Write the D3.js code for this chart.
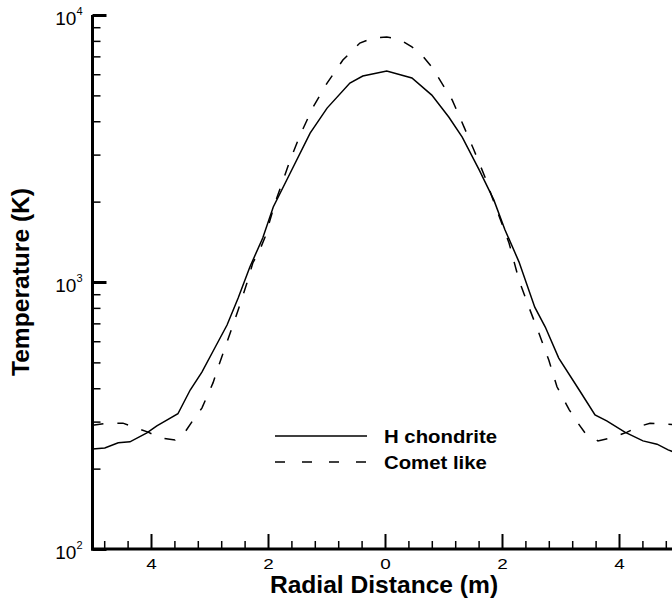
<!DOCTYPE html>
<html>
<head>
<meta charset="utf-8">
<script src="https://cdn.jsdelivr.net/npm/d3@7"></script>
<style>
body {
  margin: 0;
  background-color: white;
  overflow: hidden;
}
text {
  font-family: "Liberation Sans", Arial, sans-serif;
  fill: black;
}
.axis path {
  display: none;
}
.axis line {
  stroke: black;
}
</style>
</head>
<body>
<script>
// H chondrite (solid)
const xChondrite = [-5.0, -4.79, -4.56, -4.36, -4.07, -3.90, -3.73, -3.54, -3.33, -3.13, -2.91, -2.70, -2.51, -2.31, -2.09, -1.91, -1.62, -1.28, -0.99, -0.60, -0.38, 0.03, 0.46, 0.80, 1.09, 1.32, 1.61, 1.86, 2.05, 2.29, 2.56, 2.74, 2.97, 3.32, 3.59, 3.79, 4.10, 4.41, 4.65, 4.84, 5.0];
const tChondrite = [237, 239, 250, 252, 272, 289, 304, 321, 394, 460, 566, 690, 871, 1138, 1462, 1910, 2560, 3610, 4480, 5560, 5910, 6170, 5810, 5010, 4150, 3490, 2630, 2030, 1570, 1190, 805, 678, 519, 394, 318, 302, 274, 254, 247, 235, 228];

// Comet like (dashed)
const xComet = [-5.0, -4.74, -4.48, -4.05, -3.85, -3.59, -3.42, -3.28, -3.13, -3.03, -2.94, -2.85, -2.70, -2.51, -2.36, -2.26, -2.14, -2.05, -1.88, -1.62, -1.45, -1.23, -0.99, -0.72, -0.43, -0.21, 0.03, 0.24, 0.46, 0.63, 0.80, 1.15, 1.35, 1.52, 1.71, 1.83, 2.12, 2.29, 2.46, 2.63, 2.80, 2.94, 3.15, 3.30, 3.42, 3.64, 3.88, 4.14, 4.31, 4.53, 4.75, 5.0];
const tComet = [291, 296, 296, 274, 261, 256, 274, 304, 337, 378, 419, 481, 596, 785, 991, 1178, 1318, 1475, 1977, 2864, 3556, 4520, 5560, 6780, 7850, 8200, 8270, 8130, 7590, 7080, 6390, 4800, 3810, 3120, 2470, 2080, 1400, 1017, 805, 644, 510, 405, 332, 296, 272, 254, 261, 274, 286, 296, 294, 292];

const xMajorTicks = [-4, -2, 0, 2, 4];
const xMinorTicks = [-4.8, -4.4, -3.6, -3.2, -2.8, -2.4, -1.6, -1.2, -0.8, -0.4, 0.4, 0.8, 1.2, 1.6, 2.4, 2.8, 3.2, 3.6, 4.4, 4.8];
const yMajorTicks = [100, 1000, 10000];
const yExponents = ["2", "3", "4"];
const yMinorTicks = [200, 300, 400, 500, 600, 700, 800, 900, 2000, 3000, 4000, 5000, 6000, 7000, 8000, 9000];

const seriesNames = ["H chondrite", "Comet like"];

const svg = d3.select("body")
              .append("svg")
              .attr("width", 672)
              .attr("height", 601);

// plot box: right edge runs past the window, like the original
const plotLeft = 92.5, plotRight = 677.5, plotTop = 15, plotBottom = 549;

const xScale = d3.scaleLinear().domain([-5, 5]).range([plotLeft, plotRight]);
const yScale = d3.scaleLog().domain([100, 10000]).range([plotBottom, plotTop]);

svg.append("clipPath")
   .attr("id", "plotclip")
   .append("rect")
   .attr("x", plotLeft).attr("y", plotTop)
   .attr("width", plotRight - plotLeft).attr("height", plotBottom - plotTop);

const line = d3.line()
               .x(d => xScale(d[0]))
               .y(d => yScale(d[1]));

svg.append("path")
   .datum(d3.zip(xChondrite, tChondrite))
   .attr("clip-path", "url(#plotclip)")
   .attr("fill", "none")
   .attr("stroke", "black")
   .attr("stroke-width", 1.5)
   .attr("d", line);

svg.append("path")
   .datum(d3.zip(xComet, tComet))
   .attr("clip-path", "url(#plotclip)")
   .attr("fill", "none")
   .attr("stroke", "black")
   .attr("stroke-width", 1.5)
   .attr("stroke-dasharray", "11,14")
   .attr("d", line);

// x axis, ticks pointing up into the plot
svg.append("g")
   .attr("class", "axis")
   .attr("transform", `translate(0, ${plotBottom})`)
   .call(d3.axisBottom(xScale).tickValues(xMinorTicks).tickSize(-8).tickFormat(""))
   .selectAll("line").attr("stroke-width", 1.5);

const xMajor = svg.append("g")
   .attr("class", "axis")
   .attr("transform", `translate(0, ${plotBottom})`)
   .call(d3.axisBottom(xScale).tickValues(xMajorTicks).tickSize(-15).tickFormat(d => Math.abs(d)));
xMajor.selectAll("line").attr("stroke-width", 2);
xMajor.selectAll("text")
      .attr("y", 20)
      .attr("dy", null)
      .attr("font-size", 14)
      .attr("font-family", null)
      .attr("transform", "scale(1.35,1)");

// y axis, ticks pointing right
svg.append("g")
   .attr("class", "axis")
   .attr("transform", `translate(${plotLeft}, 0)`)
   .call(d3.axisLeft(yScale).tickValues(yMinorTicks).tickSize(-8).tickFormat(""))
   .selectAll("line").attr("stroke-width", 1.5);

const yMajor = svg.append("g")
   .attr("class", "axis")
   .attr("transform", `translate(${plotLeft}, 0)`)
   .call(d3.axisLeft(yScale).tickValues(yMajorTicks).tickSize(-14).tickFormat(""));
yMajor.selectAll("line").attr("stroke-width", 3);
yMajor.selectAll(".tick text").remove();
yMajor.selectAll(".tick")
      .append("text")
      .attr("x", -10)
      .attr("y", 9)
      .attr("text-anchor", "end")
      .attr("font-size", 19)
      .each(function(d, i) {
        const t = d3.select(this);
        t.append("tspan").text("10");
        t.append("tspan").attr("font-size", 11).attr("dy", -10).text(yExponents[i]);
      });

// axis lines
svg.append("line")
   .attr("x1", plotLeft).attr("x2", plotLeft)
   .attr("y1", plotTop).attr("y2", plotBottom + 1.5)
   .attr("stroke", "black").attr("stroke-width", 3);
svg.append("line")
   .attr("x1", plotLeft - 1.5).attr("x2", plotRight)
   .attr("y1", plotBottom).attr("y2", plotBottom)
   .attr("stroke", "black").attr("stroke-width", 3);

// titles
svg.append("text")
   .attr("transform", "translate(384, 593) scale(1.07,1)")
   .attr("text-anchor", "middle")
   .attr("font-size", 23)
   .attr("font-weight", "bold")
   .text("Radial Distance (m)");

svg.append("text")
   .attr("transform", "translate(29, 282) rotate(-90) scale(1.07,1)")
   .attr("text-anchor", "middle")
   .attr("font-size", 23)
   .attr("font-weight", "bold")
   .text("Temperature (K)");

// legend
const legend = svg.append("g");
const legendY = [436, 462];
const legendDash = [null, "10,17"];
seriesNames.forEach((name, i) => {
  legend.append("line")
        .attr("x1", 275).attr("x2", 367)
        .attr("y1", legendY[i]).attr("y2", legendY[i])
        .attr("stroke", "black")
        .attr("stroke-width", 1.5)
        .attr("stroke-dasharray", legendDash[i]);
  legend.append("text")
        .attr("transform", `translate(384, ${legendY[i] + 7}) scale(1.1,1)`)
        .attr("font-size", 18.5)
        .attr("font-weight", "bold")
        .text(name);
});
</script>
</body>
</html>
